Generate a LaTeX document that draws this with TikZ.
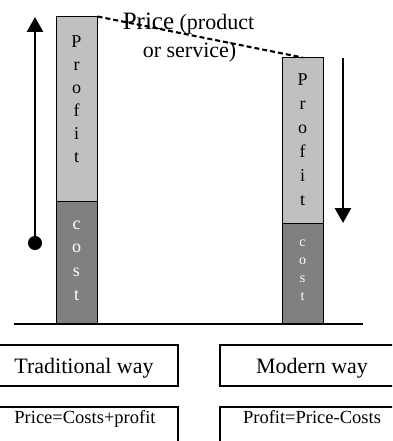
\documentclass[tikz,border=0pt]{standalone}
\usepackage{fontspec}
\setmainfont{Liberation Serif}
\usetikzlibrary{arrows.meta}
\definecolor{profitgray}{HTML}{C0C0C0}
\definecolor{costgray}{HTML}{808080}
\begin{document}
\begin{tikzpicture}[x=1pt,y=-1pt,
  barpart/.style={draw=black, line width=1pt, inner sep=0pt, minimum width=41pt},
  profitpart/.style={barpart, fill=profitgray},
  costpart/.style={barpart, fill=costgray},
  stack/.style={align=center, inner sep=0pt, anchor=north},
  waybox/.style={draw=black, line width=1.4pt, inner sep=0pt},
  bigarrow/.style={line width=2.6pt},
  ]
\useasboundingbox (0,0) rectangle (392,441);
\clip (0,0) rectangle (392,441);

% bars
\node[profitpart, minimum height=184pt] (lp) at (76.5,109) {};
\node[costpart,   minimum height=123pt] (lc) at (76.5,262.5) {};
\node[profitpart, minimum height=165pt] (rp) at (302.5,140.5) {};
\node[costpart,   minimum height=101pt] (rc) at (302.5,273.5) {};

% bar letters
\node[stack, font=\fontsize{18}{23}\selectfont] (lpt) at (76.5,36) {P\\r\\o\\f\\i\\t};
\node[stack, font=\fontsize{18}{23.7}\selectfont, text=white] (lct) at (76.5,220.5) {c\\o\\s\\t};
\node[stack, font=\fontsize{18}{24}\selectfont] (rpt) at (302.5,74) {P\\r\\o\\f\\i\\t};
\node[stack, font=\fontsize{14}{18}\selectfont, text=white] (rct) at (302.5,240) {c\\o\\s\\t};

% ground line
\coordinate (g0) at (14,324);
\coordinate (g1) at (363,324);
\draw[line width=1.6pt] (g0) -- (g1);

% arrows
\coordinate (la0) at (35,250);
\coordinate (la1) at (35,17);
\draw[bigarrow, {Circle[length=14pt,width=14pt]}-{Triangle[length=15pt,width=16pt]}] (la0) -- (la1);
\coordinate (ra0) at (343,58);
\coordinate (ra1) at (343,223);
\draw[bigarrow, -{Triangle[length=15pt,width=16pt]}] (ra0) -- (ra1);

% price label
\node[anchor=base, inner sep=0pt, font=\fontsize{22}{26}\selectfont] (price1) at (188.5,30) {{\fontsize{25}{28}\selectfont Price} (product};
\node[anchor=base, inner sep=0pt, font=\fontsize{22}{26}\selectfont] (price2) at (189.5,58) {or service)};
\draw[line width=2.1pt, dash pattern=on 5pt off 3pt] (lp.north east) -- (rp.north);

% boxes
\node[waybox, minimum width=188pt, minimum height=41pt] (trad) at (84,365.5) {};
\node[anchor=base, inner sep=0pt, font=\fontsize{22}{26}\selectfont] (tradt) at (84,373.5) {Traditional way};
\node[waybox, minimum width=184pt, minimum height=41pt] (mod) at (312,365.5) {};
\node[anchor=base, inner sep=0pt, font=\fontsize{22}{26}\selectfont] (modt) at (312,373.5) {Modern way};
\node[waybox, minimum width=188pt, minimum height=53pt] (tradf) at (84,433.5) {};
\node[anchor=base, inner sep=0pt, font=\fontsize{18.5}{22}\selectfont] (tradft) at (85,423) {Price=Costs+profit};
\node[waybox, minimum width=184pt, minimum height=53pt] (modf) at (312,433.5) {};
\node[anchor=base, inner sep=0pt, font=\fontsize{18.5}{22}\selectfont] (modft) at (312,423) {Profit=Price-Costs};
\end{tikzpicture}
\end{document}
